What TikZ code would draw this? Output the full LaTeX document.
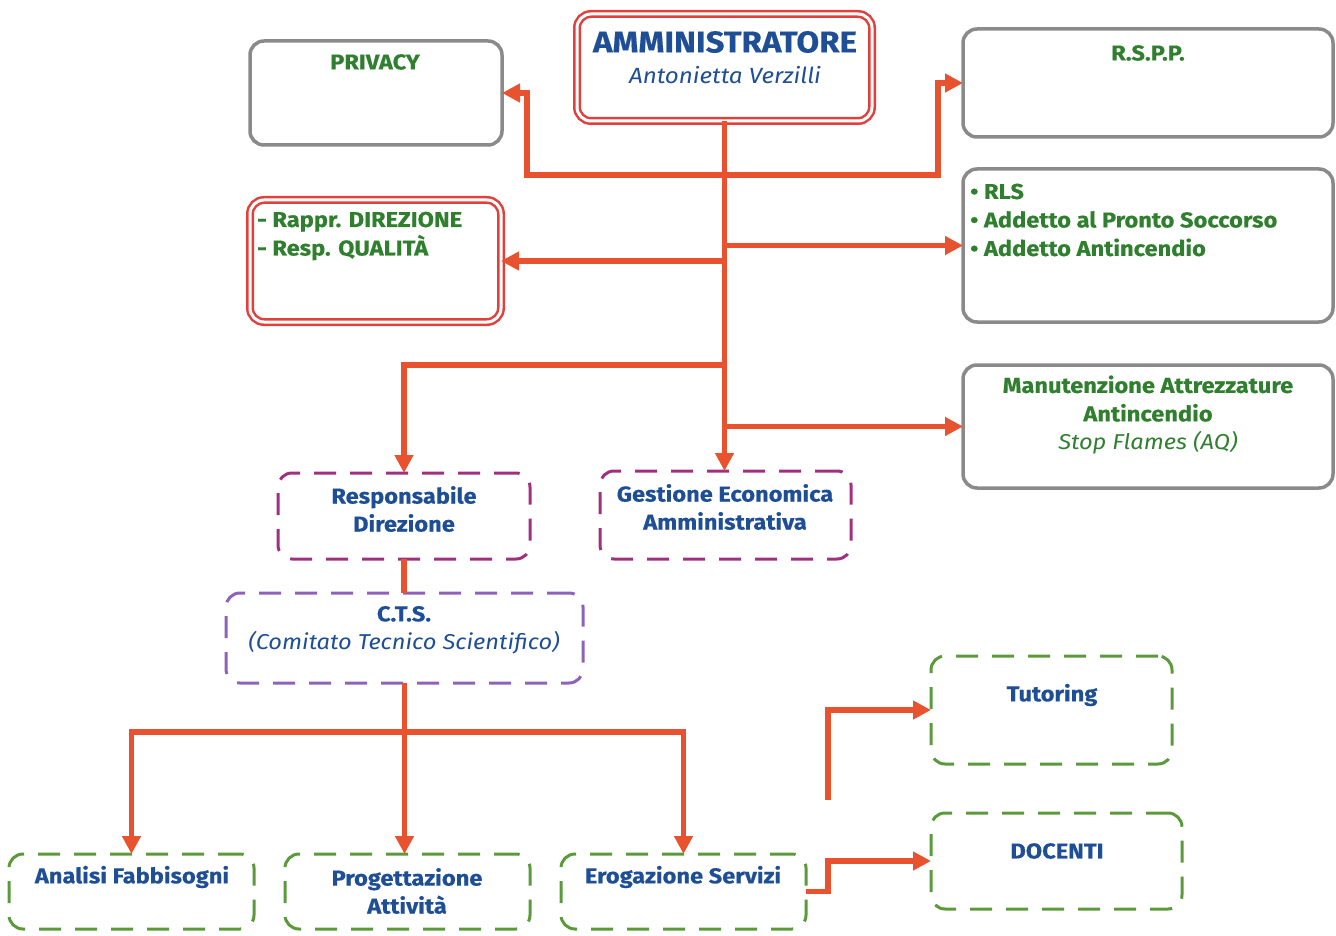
\documentclass[tikz,border=0pt]{standalone}
\usepackage{fontspec}
\setmainfont{Fira Sans}[FakeStretch=1.1, BoldFeatures={FakeBold=0.4}]
\usetikzlibrary{arrows.meta}
\definecolor{arrred}{HTML}{E8522E}
\definecolor{boxgray}{HTML}{8A8A8A}
\definecolor{boxred}{HTML}{E2403A}
\definecolor{boxpurple}{HTML}{A0307F}
\definecolor{boxlav}{HTML}{8E62B8}
\definecolor{boxgreen}{HTML}{5A9A3A}
\definecolor{txtblue}{HTML}{1E4E96}
\definecolor{txtgreen}{HTML}{2F7F2F}
\tikzset{
  basebox/.style={rounded corners=14pt, inner sep=0pt, outer sep=0pt, anchor=north west},
  graybox/.style={basebox, draw=boxgray, line width=3.5pt},
  dblbox/.style={basebox, draw=boxred, line width=2.5pt, double=white, double distance=3pt},
  dashbox/.style={basebox, line width=3pt, dash pattern=on 22pt off 14pt},
  purplebox/.style={dashbox, draw=boxpurple},
  lavbox/.style={dashbox, draw=boxlav},
  greenbox/.style={dashbox, draw=boxgreen},
  gtxt/.style={text=txtgreen, font=\fontsize{21.5}{28.5}\selectfont\bfseries, inner sep=0pt},
  btxt/.style={text=txtblue, font=\fontsize{21.5}{28}\selectfont\bfseries, inner sep=0pt, align=center},
  arr/.style={draw=arrred, line width=5.5pt, -{Triangle[length=18pt,width=18pt]}},
  ln/.style={draw=arrred, line width=5.5pt},
}
\begin{document}
\begin{tikzpicture}[x=1pt,y=-1pt]
\useasboundingbox (0,0) rectangle (1336,936);
% boxes
\node[dblbox, minimum width=295pt, minimum height=107pt] (amm) at (577,14) {};
\node[graybox, minimum width=252pt, minimum height=104pt] (privacy) at (250,41) {};
\node[graybox, minimum width=370pt, minimum height=108pt] (rspp) at (963,29) {};
\node[dblbox, minimum width=251pt, minimum height=122pt] (rappr) at (250,200) {};
\node[graybox, minimum width=370pt, minimum height=153pt] (rls) at (963,169) {};
\node[graybox, minimum width=370pt, minimum height=123pt] (manut) at (963,365) {};
\node[purplebox, minimum width=252pt, minimum height=86pt] (respdir) at (278,473) {};
\node[purplebox, minimum width=251pt, minimum height=88pt] (gest) at (600,471) {};
\node[lavbox, minimum width=357pt, minimum height=90pt] (cts) at (226,593) {};
\node[greenbox, minimum width=241pt, minimum height=108pt] (tut) at (931,656) {};
\node[greenbox, minimum width=251pt, minimum height=96pt] (doc) at (931,813) {};
\node[greenbox, minimum width=245pt, minimum height=75pt] (analisi) at (9,854) {};
\node[greenbox, minimum width=245pt, minimum height=75pt] (prog) at (285,854) {};
\node[greenbox, minimum width=245pt, minimum height=75pt] (erog) at (561,854) {};
% texts
\node[btxt, font=\fontsize{30}{32}\selectfont\bfseries] (ammt) at (725,42) {AMMINISTRATORE};
\node[btxt, font=\fontsize{22}{24}\selectfont\itshape] (ammn) at (725,75) {Antonietta Verzilli};
\node[gtxt] (privacyt) at (375,62) {PRIVACY};
\node[gtxt] (rsppt) at (1148,53) {R.S.P.P.};
\node[gtxt, anchor=west, align=left] (rapprt) at (257,236) {- Rappr. DIREZIONE\\- Resp. QUALITÀ};
\node[gtxt, anchor=west, align=left] (rlst) at (970,220) {• RLS\\• Addetto al Pronto Soccorso\\• Addetto Antincendio};
\node[gtxt, align=center] (manutt) at (1148,415) {Manutenzione Attrezzature\\Antincendio\\{\mdseries\itshape Stop Flames (AQ)}};
\node[btxt] (respdirt) at (404,509) {Responsabile\\Direzione};
\node[btxt] (gestt) at (725,507) {Gestione Economica\\Amministrativa};
\node[btxt] (ctst) at (404,630) {C.T.S.\\{\mdseries\itshape (Comitato Tecnico Scientifico)}};
\node[btxt] (tutt) at (1052,695) {Tutoring};
\node[btxt] (doct) at (1057,851) {DOCENTI};
\node[btxt] (analisit) at (132,877) {Analisi Fabbisogni};
\node[btxt] (progt) at (407,891) {Progettazione\\Attività};
\node[btxt] (erogt) at (683,877) {Erogazione Servizi};
% junctions
\coordinate (j1) at (amm.south |- 0,175);
\coordinate (j3) at (amm.south |- 0,365);
\coordinate (j4) at (cts.south |- 0,732);
\coordinate (tfree) at (828,800);
% connectors
\draw[arr] (amm.south) -- (amm.south |- gest.north);
\draw[arr] (j1) -| ([xshift=25pt]privacy.east) -- (privacy.east);
\draw[arr] (j1) -| ([xshift=-25pt]rspp.west) -- (rspp.west);
\draw[arr] (amm.south |- rls.west) -- (rls.west);
\draw[arr] (amm.south |- rappr.east) -- (rappr.east);
\draw[arr] (j3) -| (respdir.north);
\draw[arr] (amm.south |- manut.west) -- (manut.west);
\draw[ln] (respdir.south) -- (respdir.south |- cts.north);
\draw[ln] (cts.south) -- (j4);
\draw[arr] (j4) -| (analisi.north);
\draw[arr] (j4) -- (j4 |- prog.north);
\draw[arr] (j4) -| (erog.north);
\draw[arr] (erog.east) -- ++(22,0) |- (doc.west);
\draw[arr] (tfree) |- (tut.west);
\end{tikzpicture}
\end{document}
